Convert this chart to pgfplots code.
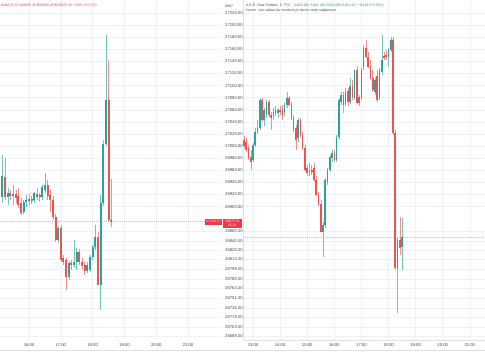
\documentclass[border=0pt]{standalone}
\usepackage{fontspec}
\setmainfont{Liberation Sans}
\usepackage{pgfplots}
\pgfplotsset{compat=1.18}
\usepackage{pgfplotstable}
\definecolor{tvgreen}{HTML}{26A69A}
\definecolor{tvred}{HTML}{EF5350}
\definecolor{tvgrid}{HTML}{EEF1F6}
\definecolor{tvtext}{HTML}{434651}
\definecolor{hdrred}{HTML}{F23645}
\definecolor{hdrgreen}{HTML}{089981}

\pgfplotstableread{
t o h l c
910 26916 26985 26906 26951
920 26916 26931 26903 26922
930 26918 26936 26903 26921
950 26891 26911 26888 26908
955 26908 26919 26899 26911
965 26909 26918 26904 26913
970 26911 26924 26906 26922
980 26916 26922 26908 26919
985 26916 26936 26911 26932
990 26927 26955 26922 26936
1015 26845 26868 26840 26865
1035 26784 26810 26779 26807
1045 26803 26845 26799 26808
1050 26808 26832 26795 26825
1070 26793 26808 26790 26803
1075 26795 26820 26792 26817
1080 26817 26837 26812 26833
1085 26833 26870 26828 26850
1095 26770 26919 26729 26906
1100 26906 27010 26901 27003
1105 27003 27184 27000 27076
}\leftup
\pgfplotstableread{
t o h l c
915 26949 26980 26911 26916
925 26922 26927 26911 26918
935 26921 26927 26906 26914
940 26918 26931 26898 26903
945 26906 26914 26886 26889
960 26913 26921 26903 26909
975 26921 26931 26911 26916
995 26936 26944 26911 26918
1000 26919 26927 26891 26911
1005 26911 26918 26878 26883
1010 26883 26888 26841 26845
1020 26865 26870 26808 26812
1025 26815 26820 26803 26808
1030 26812 26815 26762 26784
1040 26807 26812 26795 26803
1055 26825 26830 26803 26808
1060 26808 26815 26795 26802
1065 26803 26808 26787 26793
1090 26850 26858 26770 26770
1110 27076 27142 26875 26878
1115 26878.15 26945.30 26866.40 26875.30
}\leftdown
\pgfplotstableread{
t o h l c
780 26977 27005 26974 27002
785 27002 27030 26998 27023
790 27023 27043 27020 27030
795 27030 27079 27027 27076
805 27043 27063 27033 27060
810 27053 27076 27046 27073
825 27050 27063 27043 27056
835 27055 27063 27046 27060
850 27056 27071 27050 27068
855 27068 27089 27063 27079
880 27013 27046 27007 27043
905 26955 26972 26951 26960
935 26858 26875 26817 26870
940 26870 26947 26865 26944
945 26941 26964 26936 26960
950 26960 26985 26957 26982
955 26980 26994 26974 26989
965 26977 27018 26974 27015
970 27015 27079 27010 27076
975 27073 27089 27068 27084
985 27070 27096 27066 27089
995 27073 27113 27070 27099
1005 27079 27126 27076 27126
1020 27079 27129 27076 27126
1025 27131 27167 27126 27162
1050 27089 27113 27084 27109
1060 27079 27129 27076 27126
1065 27122 27184 27118 27142
1080 27147 27162 27131 27159
1085 27159 27180 27156 27175
1100 26799 26848 26724 26845
1110 26833 26881 26795 26850
}\rightup
\pgfplotstableread{
t o h l c
760 27010 27017 26997 27000
765 27007 27013 26990 26994
770 26997 27002 26977 26980
775 26982 26994 26960 26974
800 27076 27079 27040 27043
815 27073 27076 27048 27051
820 27051 27056 27027 27046
830 27060 27066 27050 27055
840 27060 27066 27051 27056
845 27060 27068 27043 27051
860 27079 27083 27066 27068
865 27068 27073 27043 27046
870 27046 27051 27023 27027
875 27030 27035 26994 27010
885 27043 27046 27015 27018
890 27018 27023 26994 26997
895 26997 27002 26957 26960
900 26964 26969 26951 26955
910 26960 26969 26952 26957
915 26964 26972 26941 26944
920 26944 26951 26918 26919
925 26919 26924 26901 26903
930 26904 26911 26858 26858
960 26989 26994 26974 26977
980 27084 27089 27055 27068
990 27091 27096 27066 27073
1000 27099 27109 27076 27081
1010 27126 27132 27070 27071
1015 27081 27084 27066 27071
1030 27162 27175 27146 27147
1035 27147 27156 27129 27131
1040 27132 27142 27109 27113
1045 27113 27126 27089 27093
1055 27116 27126 27073 27076
1070 27149 27156 27142 27146
1075 27151 27159 27142 27147
1090 27175 27180 27018 27022
1095 27022 27027 26795 26799
1105 26845 26883 26820 26832
}\rightdown

\pgfplotsset{
  candle/.style n args={2}{only marks, mark=*, mark size=0pt,
    mark options={draw=none, fill=none}, forget plot,
    error bars/.cd, y dir=minus, y explicit, error mark=none,
    error bar style={line width=#2, draw=#1, line cap=butt}},
  tvaxis/.style={
    scale only axis, anchor=south west, height=340bp,
    ymin=26679.5, ymax=27241.5,
    tick style={draw=none},
    ytick={27220,27200,27180,27160,27140,27120,27100,27080,27060,27040,27020,27000,26980,26960,26940,26920,26900,26860,26843,26828,26813,26797,26780,26765,26749,26732,26717,26701,26686},
    grid=major, grid style={tvgrid, line width=0.5bp},
    ticklabel style={font=\fontsize{4.2}{5}\selectfont, text=tvtext, inner sep=0pt},
    xticklabel style={anchor=north, yshift=-3.3bp},
  },
}
\newcommand\hs{\fontsize{3.5}{4}\selectfont}

\begin{document}
\begin{tikzpicture}
\fill[white] (0,0) rectangle (485bp,360bp);
\path[use as bounding box] (0,0) rectangle (485bp,360bp);

% left panel
\begin{axis}[tvaxis, at={(0bp,20bp)}, width=222bp,
  xmin=905.3, xmax=1324,
  axis line style={draw=none},
  xtick={960,1020,1080,1140,1200,1260},
  xticklabels={16:00,17:00,18:00,19:00,20:00,21:00},
  yticklabel pos=right,
  yticklabel style={anchor=west, xshift=3bp},
  yticklabels={27220.00,27200.00,27180.00,27160.00,27140.00,27120.00,27100.00,27080.00,27060.00,27040.00,27020.00,27000.00,26980.00,26960.00,26940.00,26920.00,26900.00,26860.30,26840.30,26820.30,26814.30,26798.30,26780.30,26764.30,26751.30,26735.30,26719.30,26703.30,26688.30},
  clip=false]
\addplot[tvred!45, line width=0.4bp, dash pattern=on 1bp off 1bp, forget plot] coordinates {(905.3,26875.3) (1324,26875.3)};
\addplot[candle={tvgreen!65}{0.45bp}] table[x=t, y=h, y error minus expr=\thisrow{h}-\thisrow{l}] \leftup;
\addplot[candle={tvred!65}{0.45bp}] table[x=t, y=h, y error minus expr=\thisrow{h}-\thisrow{l}] \leftdown;
\addplot[candle={tvgreen}{2bp}] table[x=t, y=c, y error minus expr=\thisrow{c}-\thisrow{o}] \leftup;
\addplot[candle={tvred}{2bp}] table[x=t, y=o, y error minus expr=\thisrow{o}-\thisrow{c}] \leftdown;
\end{axis}

% right panel
\begin{axis}[tvaxis, at={(243bp,20bp)}, width=242bp,
  xmin=757.9, xmax=1293.6,
  axis x line*=bottom, axis y line*=left,
  axis line style={black!12, line width=0.5bp},
  xtick={780,840,900,960,1020,1080,1140,1200,1260},
  xticklabels={13:00,14:00,15:00,16:00,17:00,18:00,19:00,20:00,21:00},
  yticklabels={}]
\addplot[tvgreen!45, line width=0.4bp, dash pattern=on 1bp off 1bp, forget plot] coordinates {(757.9,26850) (1293.6,26850)};
\addplot[candle={tvgreen!65}{0.45bp}] table[x=t, y=h, y error minus expr=\thisrow{h}-\thisrow{l}] \rightup;
\addplot[candle={tvred!65}{0.45bp}] table[x=t, y=h, y error minus expr=\thisrow{h}-\thisrow{l}] \rightdown;
\addplot[candle={tvgreen}{1.6bp}] table[x=t, y=c, y error minus expr=\thisrow{c}-\thisrow{o}] \rightup;
\addplot[candle={tvred}{1.6bp}] table[x=t, y=o, y error minus expr=\thisrow{o}-\thisrow{c}] \rightdown;
\end{axis}

% frame lines
\draw[black!12, line width=0.5bp] (0,10bp) -- (485bp,10bp);

% headers
\node[anchor=west, inner sep=0pt, text=hdrred] at (1bp,354bp) {\hs{\color{tvtext}A}26875.22 {\color{tvtext}Y}26945.30 {\color{tvtext}D}26866.40 {\color{tvtext}K}26875.30 −2.85 (−0.27\%)};
\node[anchor=west, inner sep=0pt, text=tvtext] at (225bp,354bp) {\hs 0007};
\node[anchor=west, inner sep=0pt, text=tvtext] at (246bp,354bp) {\hs A.E.E. Ozar Endeksi, 5, TYC\quad{\color{hdrgreen}A101.162 Y102.146 D101.085 K101.117 −0.218 (−0.22\%)}};
\node[anchor=west, inner sep=0pt, text=tvtext] at (246bp,349bp) {\hs Hacim: Veri sahası bu sembol için hacim verisi sağlamıyor};

% price labels
\node[fill=hdrred, text=white, inner sep=0.6bp, minimum width=17bp, minimum height=6bp, font=\fontsize{3.2}{3.6}\selectfont] at (213.5bp,138bp) {27,125.67};
\node[fill=hdrred, text=white, inner sep=0.6bp, minimum width=19bp, minimum height=9bp, align=center, font=\fontsize{3.4}{3.8}\selectfont] at (232.5bp,136.5bp) {26875.30\\01:31};
\end{tikzpicture}
\end{document}
